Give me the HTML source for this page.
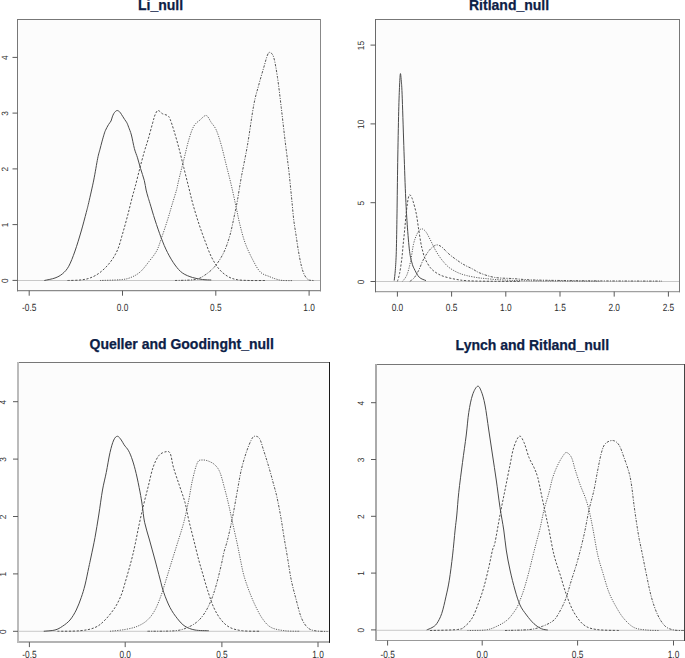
<!DOCTYPE html>
<html><head><meta charset="utf-8"><style>
html,body{margin:0;padding:0;background:#fff;width:685px;height:658px;overflow:hidden}
svg{display:block}
.ax{font-family:"Liberation Sans",sans-serif;font-size:10.4px;fill:#2e2e2e;text-rendering:geometricPrecision}
.ti{font-family:"Liberation Sans",sans-serif;font-size:14px;font-weight:bold;fill:#0c2046;stroke:#0c2046;stroke-width:0.25px}
</style></head><body>
<svg width="685" height="658" viewBox="0 0 685 658">
<rect width="685" height="658" fill="#fff"/>
<rect x="17.5" y="19.5" width="303.0" height="271.2" fill="#fcfcfc"/>
<line x1="17.5" y1="280.5" x2="320.5" y2="280.5" stroke="#c8c8c8" stroke-width="1"/>
<path d="M175.00 280.50 C178.33 280.33 190.00 280.42 195.00 279.50 C200.00 278.58 201.67 277.21 205.00 275.00 C208.33 272.79 211.88 270.00 215.00 266.25 C218.12 262.50 221.25 257.71 223.75 252.50 C226.25 247.29 228.12 241.67 230.00 235.00 C231.88 228.33 233.75 218.33 235.00 212.50 C236.25 206.67 236.46 205.83 237.50 200.00 C238.54 194.17 239.58 186.67 241.25 177.50 C242.92 168.33 245.42 157.08 247.50 145.00 C249.58 132.92 251.88 115.00 253.75 105.00 C255.62 95.00 257.08 91.25 258.75 85.00 C260.42 78.75 262.29 72.50 263.75 67.50 C265.21 62.50 266.46 57.50 267.50 55.00 C268.54 52.50 268.96 52.08 270.00 52.50 C271.04 52.92 272.50 53.33 273.75 57.50 C275.00 61.67 276.25 69.17 277.50 77.50 C278.75 85.83 280.00 97.08 281.25 107.50 C282.50 117.92 283.75 129.58 285.00 140.00 C286.25 150.42 287.78 161.67 288.75 170.00 C289.72 178.33 290.21 184.13 290.80 190.00 C291.39 195.87 291.80 200.13 292.30 205.20 C292.80 210.27 293.17 215.33 293.80 220.40 C294.43 225.47 295.33 230.53 296.10 235.60 C296.87 240.67 297.52 245.73 298.40 250.80 C299.28 255.87 300.38 261.95 301.40 266.00 C302.42 270.05 303.35 272.82 304.50 275.10 C305.65 277.38 307.03 278.82 308.30 279.70 C309.57 280.58 311.15 280.25 312.10 280.40 C313.05 280.55 313.68 280.57 314.00 280.60" fill="none" stroke="#555" stroke-width="1" stroke-dasharray="2.4 1.3 1.1 1.3"/>
<path d="M100.00 280.50 C103.33 280.37 115.00 280.15 120.00 279.70 C125.00 279.25 126.67 279.07 130.00 277.80 C133.33 276.53 136.82 274.83 140.00 272.10 C143.18 269.37 146.32 264.95 149.10 261.40 C151.88 257.85 154.67 254.60 156.70 250.80 C158.73 247.00 159.52 243.67 161.30 238.60 C163.08 233.53 165.63 225.97 167.40 220.40 C169.17 214.83 170.38 210.27 171.90 205.20 C173.42 200.13 175.36 194.20 176.50 190.00 C177.64 185.80 177.54 185.00 178.75 180.00 C179.96 175.00 182.08 166.67 183.75 160.00 C185.42 153.33 187.08 145.62 188.75 140.00 C190.42 134.38 191.88 129.58 193.75 126.25 C195.62 122.92 197.92 121.79 200.00 120.00 C202.08 118.21 204.38 115.08 206.25 115.50 C208.12 115.92 209.58 120.08 211.25 122.50 C212.92 124.92 214.58 126.25 216.25 130.00 C217.92 133.75 219.58 139.17 221.25 145.00 C222.92 150.83 224.58 158.33 226.25 165.00 C227.92 171.67 229.61 178.00 231.25 185.00 C232.89 192.00 234.64 200.33 236.10 207.00 C237.56 213.67 238.48 218.97 240.00 225.00 C241.52 231.03 243.07 237.38 245.20 243.20 C247.33 249.02 250.27 255.08 252.80 259.90 C255.33 264.72 257.62 269.32 260.40 272.10 C263.18 274.88 266.97 275.47 269.50 276.60 C272.03 277.73 273.52 278.27 275.60 278.90 C277.68 279.53 279.18 280.12 282.00 280.40 C284.82 280.68 290.75 280.57 292.50 280.60" fill="none" stroke="#606060" stroke-width="1" stroke-dasharray="1.2 1.2"/>
<path d="M67.50 280.50 C69.58 280.42 76.25 280.42 80.00 280.00 C83.75 279.58 86.67 279.25 90.00 278.00 C93.33 276.75 96.67 275.08 100.00 272.50 C103.33 269.92 107.08 266.25 110.00 262.50 C112.92 258.75 115.42 254.75 117.50 250.00 C119.58 245.25 120.83 239.67 122.50 234.00 C124.17 228.33 125.88 222.12 127.50 216.00 C129.12 209.88 130.92 202.20 132.20 197.30 C133.48 192.40 133.93 191.42 135.20 186.60 C136.47 181.78 138.28 174.22 139.80 168.40 C141.32 162.58 142.92 156.52 144.30 151.70 C145.68 146.88 146.70 144.32 148.10 139.50 C149.50 134.68 151.55 126.88 152.70 122.80 C153.85 118.72 154.12 117.05 155.00 115.00 C155.88 112.95 156.75 110.71 158.00 110.50 C159.25 110.29 160.92 112.92 162.50 113.75 C164.08 114.58 166.25 114.62 167.50 115.50 C168.75 116.38 168.96 116.58 170.00 119.00 C171.04 121.42 172.29 125.25 173.75 130.00 C175.21 134.75 177.08 141.25 178.75 147.50 C180.42 153.75 182.08 160.83 183.75 167.50 C185.42 174.17 187.18 181.22 188.75 187.50 C190.32 193.78 191.44 198.95 193.20 205.20 C194.96 211.45 197.28 218.92 199.30 225.00 C201.32 231.08 203.28 236.38 205.30 241.70 C207.32 247.02 209.12 252.35 211.40 256.90 C213.68 261.45 216.22 265.72 219.00 269.00 C221.78 272.28 225.05 274.82 228.10 276.60 C231.15 278.38 233.65 279.05 237.30 279.70 C240.95 280.35 245.38 280.37 250.00 280.50 C254.62 280.63 262.50 280.50 265.00 280.50" fill="none" stroke="#505050" stroke-width="1" stroke-dasharray="2.2 1.6"/>
<path d="M44.30 280.50 C46.08 280.08 51.97 279.12 55.00 278.00 C58.03 276.88 60.21 275.71 62.50 273.75 C64.79 271.79 66.67 270.04 68.75 266.25 C70.83 262.46 72.92 256.88 75.00 251.00 C77.08 245.12 79.38 237.42 81.25 231.00 C83.12 224.58 85.00 217.25 86.25 212.50 C87.50 207.75 87.50 207.92 88.75 202.50 C90.00 197.08 92.26 187.37 93.75 180.00 C95.24 172.63 96.66 163.43 97.70 158.30 C98.74 153.17 99.30 151.93 100.00 149.20 C100.70 146.47 101.22 144.40 101.90 141.90 C102.58 139.40 103.50 136.13 104.10 134.20 C104.70 132.27 104.77 131.90 105.50 130.30 C106.23 128.70 107.58 126.15 108.50 124.60 C109.42 123.05 110.37 122.28 111.00 121.00 C111.63 119.72 111.85 118.12 112.30 116.90 C112.75 115.68 113.17 114.62 113.70 113.70 C114.23 112.78 114.90 111.93 115.50 111.40 C116.10 110.87 116.62 110.43 117.30 110.50 C117.98 110.57 118.92 111.17 119.60 111.80 C120.28 112.43 120.57 113.03 121.40 114.30 C122.23 115.57 123.68 117.98 124.60 119.40 C125.52 120.82 126.22 121.48 126.90 122.80 C127.58 124.12 127.95 125.27 128.70 127.30 C129.45 129.33 130.45 131.45 131.40 135.00 C132.35 138.55 133.38 144.80 134.40 148.60 C135.42 152.40 136.48 154.50 137.50 157.80 C138.52 161.10 139.37 164.62 140.50 168.40 C141.63 172.18 143.37 176.90 144.30 180.50 C145.23 184.10 145.47 187.20 146.10 190.00 C146.73 192.80 147.45 195.05 148.10 197.30 C148.75 199.55 148.85 199.72 150.00 203.50 C151.15 207.28 153.12 214.25 155.00 220.00 C156.88 225.75 159.17 232.58 161.25 238.00 C163.33 243.42 165.21 248.00 167.50 252.50 C169.79 257.00 172.50 261.58 175.00 265.00 C177.50 268.42 179.58 270.92 182.50 273.00 C185.42 275.08 189.17 276.42 192.50 277.50 C195.83 278.58 199.38 279.08 202.50 279.50 C205.62 279.92 209.79 279.92 211.25 280.00" fill="none" stroke="#4a4a4a" stroke-width="1"/>
<line x1="17.00" y1="19.50" x2="321.00" y2="19.50" stroke="#777" stroke-width="1.00"/>
<line x1="17.00" y1="290.70" x2="321.00" y2="290.70" stroke="#8a8a8a" stroke-width="1.30"/>
<line x1="17.50" y1="19.00" x2="17.50" y2="291.35" stroke="#777" stroke-width="1.00"/>
<line x1="320.50" y1="19.00" x2="320.50" y2="291.35" stroke="#888" stroke-width="1.00"/>
<line x1="29.2" y1="290.7" x2="29.2" y2="295.7" stroke="#5a5a5a" stroke-width="1"/>
<text x="0" y="0" class="ax" text-anchor="middle" transform="translate(29.2 310.6) scale(0.8 1)">-0.5</text>
<line x1="122.5" y1="290.7" x2="122.5" y2="295.7" stroke="#5a5a5a" stroke-width="1"/>
<text x="0" y="0" class="ax" text-anchor="middle" transform="translate(122.5 310.6) scale(0.8 1)">0.0</text>
<line x1="215.8" y1="290.7" x2="215.8" y2="295.7" stroke="#5a5a5a" stroke-width="1"/>
<text x="0" y="0" class="ax" text-anchor="middle" transform="translate(215.8 310.6) scale(0.8 1)">0.5</text>
<line x1="309.1" y1="290.7" x2="309.1" y2="295.7" stroke="#5a5a5a" stroke-width="1"/>
<text x="0" y="0" class="ax" text-anchor="middle" transform="translate(309.1 310.6) scale(0.8 1)">1.0</text>
<line x1="12.5" y1="280.4" x2="17.5" y2="280.4" stroke="#5a5a5a" stroke-width="1"/>
<text x="0" y="0" class="ax" text-anchor="middle" transform="translate(8.2 280.8) scale(0.88 1) rotate(-90) scale(0.8 1)">0</text>
<line x1="12.5" y1="224.6" x2="17.5" y2="224.6" stroke="#5a5a5a" stroke-width="1"/>
<text x="0" y="0" class="ax" text-anchor="middle" transform="translate(8.2 225.0) scale(0.88 1) rotate(-90) scale(0.8 1)">1</text>
<line x1="12.5" y1="168.9" x2="17.5" y2="168.9" stroke="#5a5a5a" stroke-width="1"/>
<text x="0" y="0" class="ax" text-anchor="middle" transform="translate(8.2 169.3) scale(0.88 1) rotate(-90) scale(0.8 1)">2</text>
<line x1="12.5" y1="113.1" x2="17.5" y2="113.1" stroke="#5a5a5a" stroke-width="1"/>
<text x="0" y="0" class="ax" text-anchor="middle" transform="translate(8.2 113.5) scale(0.88 1) rotate(-90) scale(0.8 1)">3</text>
<line x1="12.5" y1="57.4" x2="17.5" y2="57.4" stroke="#5a5a5a" stroke-width="1"/>
<text x="0" y="0" class="ax" text-anchor="middle" transform="translate(8.2 57.8) scale(0.88 1) rotate(-90) scale(0.8 1)">4</text>
<text x="138.0" y="9.9" class="ti">Li_null</text>
<rect x="375.5" y="19.5" width="304.0" height="272.1" fill="#fcfcfc"/>
<line x1="375.5" y1="281.5" x2="679.5" y2="281.5" stroke="#c8c8c8" stroke-width="1"/>
<path d="M409.80 281.40 C410.53 280.80 412.73 279.62 414.20 277.80 C415.67 275.98 417.13 273.42 418.60 270.50 C420.07 267.58 421.55 263.22 423.00 260.30 C424.45 257.38 425.85 255.08 427.30 253.00 C428.75 250.92 430.12 249.15 431.70 247.80 C433.28 246.45 435.10 245.02 436.80 244.90 C438.50 244.78 440.07 245.75 441.90 247.10 C443.73 248.45 445.60 251.05 447.80 253.00 C450.00 254.95 452.43 256.87 455.10 258.80 C457.77 260.73 460.88 262.90 463.80 264.60 C466.72 266.30 469.92 267.60 472.60 269.00 C475.28 270.40 476.25 271.60 479.90 273.00 C483.55 274.40 489.00 276.47 494.50 277.40 C500.00 278.33 506.77 278.18 512.90 278.60 C519.03 279.02 523.12 279.58 531.30 279.90 C539.48 280.22 550.55 280.33 562.00 280.50 C573.45 280.67 583.33 280.80 600.00 280.90 C616.67 281.00 651.67 281.07 662.00 281.10" fill="none" stroke="#555" stroke-width="1" stroke-dasharray="2.4 1.3 1.1 1.3"/>
<path d="M402.50 281.40 C403.23 280.32 405.57 278.18 406.90 274.90 C408.23 271.62 409.40 266.82 410.50 261.70 C411.60 256.58 412.52 248.58 413.50 244.20 C414.48 239.82 415.43 237.72 416.40 235.40 C417.37 233.08 418.33 231.38 419.30 230.30 C420.27 229.22 421.10 228.65 422.20 228.90 C423.30 229.15 424.55 229.98 425.90 231.80 C427.25 233.62 428.85 237.00 430.30 239.80 C431.75 242.60 433.15 245.92 434.60 248.60 C436.05 251.28 437.53 253.72 439.00 255.90 C440.47 258.08 441.70 259.75 443.40 261.70 C445.10 263.65 446.77 265.77 449.20 267.60 C451.63 269.43 455.07 271.37 458.00 272.70 C460.93 274.03 463.40 274.75 466.80 275.60 C470.20 276.45 475.37 277.32 478.40 277.80 C481.43 278.28 481.40 278.17 485.00 278.50 C488.60 278.83 492.50 279.42 500.00 279.80 C507.50 280.18 513.33 280.57 530.00 280.80 C546.67 281.03 588.33 281.13 600.00 281.20" fill="none" stroke="#606060" stroke-width="1" stroke-dasharray="1.2 1.2"/>
<path d="M397.40 281.40 C397.77 280.07 398.87 277.17 399.60 273.40 C400.33 269.63 401.20 263.67 401.80 258.80 C402.40 253.93 402.72 249.07 403.20 244.20 C403.68 239.33 404.23 234.47 404.70 229.60 C405.17 224.73 405.58 219.10 406.00 215.00 C406.42 210.90 406.82 207.83 407.20 205.00 C407.58 202.17 407.88 199.70 408.30 198.00 C408.72 196.30 409.17 194.97 409.70 194.80 C410.23 194.63 410.92 195.85 411.50 197.00 C412.08 198.15 412.40 198.90 413.20 201.70 C414.00 204.50 415.40 209.25 416.30 213.80 C417.20 218.35 417.85 224.18 418.60 229.00 C419.35 233.82 420.17 239.20 420.80 242.70 C421.43 246.20 421.68 247.32 422.40 250.00 C423.12 252.68 423.78 255.87 425.10 258.80 C426.42 261.73 428.47 265.28 430.30 267.60 C432.13 269.92 433.92 271.25 436.10 272.70 C438.28 274.15 440.23 275.22 443.40 276.30 C446.57 277.38 451.20 278.47 455.10 279.20 C459.00 279.93 461.82 280.37 466.80 280.70 C471.78 281.03 476.13 281.08 485.00 281.20 C493.87 281.32 514.17 281.37 520.00 281.40" fill="none" stroke="#505050" stroke-width="1" stroke-dasharray="2.2 1.6"/>
<path d="M394.20 280.60 C394.38 278.88 394.95 275.15 395.30 270.30 C395.65 265.45 396.02 260.90 396.30 251.50 C396.58 242.10 396.77 228.72 397.00 213.90 C397.23 199.08 397.42 179.70 397.70 162.60 C397.98 145.50 398.38 124.23 398.70 111.30 C399.02 98.37 399.32 91.27 399.60 85.00 C399.88 78.73 400.13 74.53 400.40 73.70 C400.67 72.87 400.92 76.58 401.20 80.00 C401.48 83.42 401.67 83.28 402.10 94.20 C402.53 105.12 403.23 128.97 403.80 145.50 C404.37 162.03 404.93 180.28 405.50 193.40 C406.07 206.52 406.52 214.52 407.20 224.20 C407.88 233.88 408.80 245.03 409.60 251.50 C410.40 257.97 411.25 260.15 412.00 263.00 C412.75 265.85 412.90 266.23 414.10 268.60 C415.30 270.97 417.22 275.20 419.20 277.20 C421.18 279.20 424.87 280.03 426.00 280.60" fill="none" stroke="#4a4a4a" stroke-width="1"/>
<line x1="375.00" y1="19.50" x2="680.00" y2="19.50" stroke="#777" stroke-width="1.00"/>
<line x1="375.00" y1="291.60" x2="680.00" y2="291.60" stroke="#a0a0a0" stroke-width="1.30"/>
<line x1="375.50" y1="19.00" x2="375.50" y2="292.25" stroke="#6a6a6a" stroke-width="1.00"/>
<line x1="679.50" y1="19.00" x2="679.50" y2="292.25" stroke="#777" stroke-width="1.00"/>
<line x1="397.4" y1="291.6" x2="397.4" y2="296.6" stroke="#5a5a5a" stroke-width="1"/>
<text x="0" y="0" class="ax" text-anchor="middle" transform="translate(397.4 311.2) scale(0.8 1)">0.0</text>
<line x1="451.6" y1="291.6" x2="451.6" y2="296.6" stroke="#5a5a5a" stroke-width="1"/>
<text x="0" y="0" class="ax" text-anchor="middle" transform="translate(451.6 311.2) scale(0.8 1)">0.5</text>
<line x1="505.8" y1="291.6" x2="505.8" y2="296.6" stroke="#5a5a5a" stroke-width="1"/>
<text x="0" y="0" class="ax" text-anchor="middle" transform="translate(505.8 311.2) scale(0.8 1)">1.0</text>
<line x1="560.0" y1="291.6" x2="560.0" y2="296.6" stroke="#5a5a5a" stroke-width="1"/>
<text x="0" y="0" class="ax" text-anchor="middle" transform="translate(560.0 311.2) scale(0.8 1)">1.5</text>
<line x1="614.2" y1="291.6" x2="614.2" y2="296.6" stroke="#5a5a5a" stroke-width="1"/>
<text x="0" y="0" class="ax" text-anchor="middle" transform="translate(614.2 311.2) scale(0.8 1)">2.0</text>
<line x1="668.4" y1="291.6" x2="668.4" y2="296.6" stroke="#5a5a5a" stroke-width="1"/>
<text x="0" y="0" class="ax" text-anchor="middle" transform="translate(668.4 311.2) scale(0.8 1)">2.5</text>
<line x1="370.5" y1="281.5" x2="375.5" y2="281.5" stroke="#5a5a5a" stroke-width="1"/>
<text x="0" y="0" class="ax" text-anchor="middle" transform="translate(364.3 281.9) scale(0.88 1) rotate(-90) scale(0.8 1)">0</text>
<line x1="370.5" y1="202.7" x2="375.5" y2="202.7" stroke="#5a5a5a" stroke-width="1"/>
<text x="0" y="0" class="ax" text-anchor="middle" transform="translate(364.3 203.1) scale(0.88 1) rotate(-90) scale(0.8 1)">5</text>
<line x1="370.5" y1="123.9" x2="375.5" y2="123.9" stroke="#5a5a5a" stroke-width="1"/>
<text x="0" y="0" class="ax" text-anchor="middle" transform="translate(364.3 124.3) scale(0.88 1) rotate(-90) scale(0.8 1)">10</text>
<line x1="370.5" y1="45.1" x2="375.5" y2="45.1" stroke="#5a5a5a" stroke-width="1"/>
<text x="0" y="0" class="ax" text-anchor="middle" transform="translate(364.3 45.5) scale(0.88 1) rotate(-90) scale(0.8 1)">15</text>
<text x="469.0" y="9.6" class="ti">Ritland_null</text>
<rect x="18.0" y="362.5" width="311.5" height="279.6" fill="#fcfcfc"/>
<line x1="18.0" y1="631.3" x2="329.5" y2="631.3" stroke="#c8c8c8" stroke-width="1"/>
<path d="M147.50 631.25 C152.08 631.17 168.33 631.38 175.00 630.75 C181.67 630.12 183.75 629.04 187.50 627.50 C191.25 625.96 194.58 624.00 197.50 621.50 C200.42 619.00 202.71 616.08 205.00 612.50 C207.29 608.92 209.38 604.58 211.25 600.00 C213.12 595.42 214.58 590.83 216.25 585.00 C217.92 579.17 219.96 570.50 221.25 565.00 C222.54 559.50 222.96 556.17 224.00 552.00 C225.04 547.83 226.08 545.75 227.50 540.00 C228.92 534.25 230.83 525.83 232.50 517.50 C234.17 509.17 236.04 497.92 237.50 490.00 C238.96 482.08 239.79 476.25 241.25 470.00 C242.71 463.75 244.58 457.50 246.25 452.50 C247.92 447.50 249.88 442.71 251.25 440.00 C252.62 437.29 253.12 436.50 254.50 436.25 C255.88 436.00 258.00 436.21 259.50 438.50 C261.00 440.79 262.25 446.25 263.50 450.00 C264.75 453.75 265.88 457.37 267.00 461.00 C268.12 464.63 269.12 467.97 270.20 471.80 C271.28 475.63 272.38 479.82 273.50 484.00 C274.62 488.18 275.63 491.13 276.90 496.90 C278.17 502.67 279.92 511.92 281.10 518.60 C282.28 525.28 282.93 530.52 284.00 537.00 C285.07 543.48 286.29 550.33 287.50 557.50 C288.71 564.67 289.79 572.92 291.25 580.00 C292.71 587.08 294.58 593.75 296.25 600.00 C297.92 606.25 299.38 612.92 301.25 617.50 C303.12 622.08 305.21 625.29 307.50 627.50 C309.79 629.71 311.67 630.08 315.00 630.75 C318.33 631.42 325.42 631.38 327.50 631.50" fill="none" stroke="#555" stroke-width="1" stroke-dasharray="2.4 1.3 1.1 1.3"/>
<path d="M110.00 631.25 C112.50 630.96 120.42 630.33 125.00 629.50 C129.58 628.67 133.75 627.83 137.50 626.25 C141.25 624.67 144.58 622.71 147.50 620.00 C150.42 617.29 152.71 614.17 155.00 610.00 C157.29 605.83 159.42 600.00 161.25 595.00 C163.08 590.00 164.33 585.33 166.00 580.00 C167.67 574.67 169.33 569.17 171.25 563.00 C173.17 556.83 175.42 549.75 177.50 543.00 C179.58 536.25 181.88 529.67 183.75 522.50 C185.62 515.33 187.29 507.08 188.75 500.00 C190.21 492.92 191.04 486.25 192.50 480.00 C193.96 473.75 195.83 465.83 197.50 462.50 C199.17 459.17 200.62 460.21 202.50 460.00 C204.38 459.79 206.67 460.42 208.75 461.25 C210.83 462.08 213.12 463.12 215.00 465.00 C216.88 466.88 218.33 468.33 220.00 472.50 C221.67 476.67 223.54 484.58 225.00 490.00 C226.46 495.42 227.50 499.58 228.75 505.00 C230.00 510.42 231.04 515.83 232.50 522.50 C233.96 529.17 236.17 538.75 237.50 545.00 C238.83 551.25 239.46 555.00 240.50 560.00 C241.54 565.00 242.38 570.00 243.75 575.00 C245.12 580.00 246.88 585.00 248.75 590.00 C250.62 595.00 252.71 600.21 255.00 605.00 C257.29 609.79 259.79 615.00 262.50 618.75 C265.21 622.50 267.50 625.50 271.25 627.50 C275.00 629.50 280.21 630.12 285.00 630.75 C289.79 631.38 297.50 631.17 300.00 631.25" fill="none" stroke="#606060" stroke-width="1" stroke-dasharray="1.2 1.2"/>
<path d="M57.50 631.25 C61.25 631.17 73.75 631.38 80.00 630.75 C86.25 630.12 90.83 629.29 95.00 627.50 C99.17 625.71 101.67 623.33 105.00 620.00 C108.33 616.67 112.29 611.67 115.00 607.50 C117.71 603.33 119.58 599.08 121.25 595.00 C122.92 590.92 123.75 587.17 125.00 583.00 C126.25 578.83 127.58 574.17 128.75 570.00 C129.92 565.83 130.96 562.17 132.00 558.00 C133.04 553.83 133.78 550.70 135.00 545.00 C136.22 539.30 137.83 530.63 139.30 523.80 C140.77 516.97 142.28 510.33 143.80 504.00 C145.32 497.67 146.87 491.87 148.40 485.80 C149.93 479.73 151.23 472.67 153.00 467.60 C154.77 462.53 156.73 458.07 159.00 455.40 C161.27 452.73 164.70 451.85 166.60 451.60 C168.50 451.35 169.25 451.23 170.40 453.90 C171.55 456.57 171.98 462.28 173.50 467.60 C175.02 472.92 177.58 479.98 179.50 485.80 C181.42 491.62 183.46 496.80 185.00 502.50 C186.54 508.20 187.29 513.75 188.75 520.00 C190.21 526.25 192.08 533.33 193.75 540.00 C195.42 546.67 197.29 554.50 198.75 560.00 C200.21 565.50 201.04 568.00 202.50 573.00 C203.96 578.00 205.62 584.25 207.50 590.00 C209.38 595.75 211.46 602.50 213.75 607.50 C216.04 612.50 218.54 616.67 221.25 620.00 C223.96 623.33 226.46 625.71 230.00 627.50 C233.54 629.29 237.50 630.12 242.50 630.75 C247.50 631.38 257.08 631.17 260.00 631.25" fill="none" stroke="#505050" stroke-width="1" stroke-dasharray="2.2 1.6"/>
<path d="M43.75 631.25 C45.62 631.04 51.88 630.83 55.00 630.00 C58.12 629.17 60.00 627.92 62.50 626.25 C65.00 624.58 67.71 622.71 70.00 620.00 C72.29 617.29 74.38 613.75 76.25 610.00 C78.12 606.25 79.79 601.67 81.25 597.50 C82.71 593.33 83.75 590.00 85.00 585.00 C86.25 580.00 87.75 572.17 88.75 567.50 C89.75 562.83 89.96 562.00 91.00 557.00 C92.04 552.00 93.71 544.50 95.00 537.50 C96.29 530.50 97.50 522.92 98.75 515.00 C100.00 507.08 101.25 497.08 102.50 490.00 C103.75 482.92 105.00 478.75 106.25 472.50 C107.50 466.25 108.75 457.92 110.00 452.50 C111.25 447.08 112.50 442.71 113.75 440.00 C115.00 437.29 116.25 436.25 117.50 436.25 C118.75 436.25 120.15 438.57 121.25 440.00 C122.35 441.43 122.88 443.00 124.10 444.80 C125.32 446.60 127.22 448.27 128.60 450.80 C129.98 453.33 131.13 456.20 132.40 460.00 C133.67 463.80 134.93 468.28 136.20 473.60 C137.47 478.92 138.98 486.58 140.00 491.90 C141.02 497.22 141.53 500.43 142.30 505.50 C143.07 510.57 143.40 516.55 144.60 522.30 C145.80 528.05 147.77 533.72 149.50 540.00 C151.23 546.28 153.25 553.50 155.00 560.00 C156.75 566.50 158.54 573.58 160.00 579.00 C161.46 584.42 162.08 587.75 163.75 592.50 C165.42 597.25 167.71 603.12 170.00 607.50 C172.29 611.88 175.00 615.62 177.50 618.75 C180.00 621.88 182.08 624.38 185.00 626.25 C187.92 628.12 191.04 629.25 195.00 630.00 C198.96 630.75 206.46 630.62 208.75 630.75" fill="none" stroke="#4a4a4a" stroke-width="1"/>
<line x1="17.00" y1="362.50" x2="330.00" y2="362.50" stroke="#777" stroke-width="1.00"/>
<line x1="17.00" y1="642.10" x2="330.00" y2="642.10" stroke="#9a9a9a" stroke-width="1.50"/>
<line x1="18.00" y1="362.00" x2="18.00" y2="642.85" stroke="#bbb" stroke-width="2.00"/>
<line x1="329.50" y1="362.00" x2="329.50" y2="642.85" stroke="#1a1a1a" stroke-width="1.00"/>
<line x1="29.4" y1="642.1" x2="29.4" y2="647.1" stroke="#5a5a5a" stroke-width="1"/>
<text x="0" y="0" class="ax" text-anchor="middle" transform="translate(29.4 658.3) scale(0.8 1)">-0.5</text>
<line x1="125.2" y1="642.1" x2="125.2" y2="647.1" stroke="#5a5a5a" stroke-width="1"/>
<text x="0" y="0" class="ax" text-anchor="middle" transform="translate(125.2 658.3) scale(0.8 1)">0.0</text>
<line x1="221.9" y1="642.1" x2="221.9" y2="647.1" stroke="#5a5a5a" stroke-width="1"/>
<text x="0" y="0" class="ax" text-anchor="middle" transform="translate(221.9 658.3) scale(0.8 1)">0.5</text>
<line x1="318.0" y1="642.1" x2="318.0" y2="647.1" stroke="#5a5a5a" stroke-width="1"/>
<text x="0" y="0" class="ax" text-anchor="middle" transform="translate(318.0 658.3) scale(0.8 1)">1.0</text>
<line x1="13.0" y1="631.3" x2="18.0" y2="631.3" stroke="#5a5a5a" stroke-width="1"/>
<text x="0" y="0" class="ax" text-anchor="middle" transform="translate(6.2 631.7) scale(0.88 1) rotate(-90) scale(0.8 1)">0</text>
<line x1="13.0" y1="573.9" x2="18.0" y2="573.9" stroke="#5a5a5a" stroke-width="1"/>
<text x="0" y="0" class="ax" text-anchor="middle" transform="translate(6.2 574.3) scale(0.88 1) rotate(-90) scale(0.8 1)">1</text>
<line x1="13.0" y1="516.5" x2="18.0" y2="516.5" stroke="#5a5a5a" stroke-width="1"/>
<text x="0" y="0" class="ax" text-anchor="middle" transform="translate(6.2 516.9) scale(0.88 1) rotate(-90) scale(0.8 1)">2</text>
<line x1="13.0" y1="459.1" x2="18.0" y2="459.1" stroke="#5a5a5a" stroke-width="1"/>
<text x="0" y="0" class="ax" text-anchor="middle" transform="translate(6.2 459.5) scale(0.88 1) rotate(-90) scale(0.8 1)">3</text>
<line x1="13.0" y1="401.7" x2="18.0" y2="401.7" stroke="#5a5a5a" stroke-width="1"/>
<text x="0" y="0" class="ax" text-anchor="middle" transform="translate(6.2 402.1) scale(0.88 1) rotate(-90) scale(0.8 1)">4</text>
<text x="89.5" y="349.3" class="ti">Queller and Goodinght_null</text>
<rect x="376.0" y="364.5" width="308.5" height="276.0" fill="#fcfcfc"/>
<line x1="376.0" y1="630.3" x2="684.5" y2="630.3" stroke="#c8c8c8" stroke-width="1"/>
<path d="M505.00 630.50 C509.17 630.33 523.75 630.21 530.00 629.50 C536.25 628.79 538.75 627.62 542.50 626.25 C546.25 624.88 549.96 623.12 552.50 621.25 C555.04 619.38 555.62 618.54 557.75 615.00 C559.88 611.46 562.96 605.83 565.25 600.00 C567.54 594.17 569.42 586.67 571.50 580.00 C573.58 573.33 575.67 567.50 577.75 560.00 C579.83 552.50 582.12 543.33 584.00 535.00 C585.88 526.67 587.33 517.50 589.00 510.00 C590.67 502.50 592.54 496.67 594.00 490.00 C595.46 483.33 596.50 476.25 597.75 470.00 C599.00 463.75 600.25 456.88 601.50 452.50 C602.75 448.12 603.38 445.75 605.25 443.75 C607.12 441.75 610.46 440.29 612.75 440.50 C615.04 440.71 617.12 442.17 619.00 445.00 C620.88 447.83 622.33 452.92 624.00 457.50 C625.67 462.08 627.75 467.92 629.00 472.50 C630.25 477.08 630.67 479.58 631.50 485.00 C632.33 490.42 633.17 498.75 634.00 505.00 C634.83 511.25 635.67 517.00 636.50 522.50 C637.33 528.00 638.17 533.42 639.00 538.00 C639.83 542.58 640.25 543.83 641.50 550.00 C642.75 556.17 644.83 567.08 646.50 575.00 C648.17 582.92 649.62 590.83 651.50 597.50 C653.38 604.17 655.46 610.21 657.75 615.00 C660.04 619.79 662.54 623.75 665.25 626.25 C667.96 628.75 670.88 629.29 674.00 630.00 C677.12 630.71 682.33 630.42 684.00 630.50" fill="none" stroke="#555" stroke-width="1" stroke-dasharray="2.4 1.3 1.1 1.3"/>
<path d="M467.50 630.50 C470.45 630.42 480.57 630.58 485.20 630.00 C489.83 629.42 491.67 628.63 495.30 627.00 C498.93 625.37 503.67 623.00 507.00 620.20 C510.33 617.40 513.35 612.98 515.30 610.20 C517.25 607.42 517.29 606.87 518.70 603.50 C520.11 600.13 522.08 595.17 523.75 590.00 C525.42 584.83 527.08 578.75 528.75 572.50 C530.42 566.25 532.38 557.92 533.75 552.50 C535.12 547.08 535.92 544.17 537.00 540.00 C538.08 535.83 539.08 532.50 540.25 527.50 C541.42 522.50 542.54 515.83 544.00 510.00 C545.46 504.17 547.54 497.92 549.00 492.50 C550.46 487.08 551.29 482.08 552.75 477.50 C554.21 472.92 556.08 468.54 557.75 465.00 C559.42 461.46 561.29 458.33 562.75 456.25 C564.21 454.17 565.04 452.29 566.50 452.50 C567.96 452.71 570.04 454.58 571.50 457.50 C572.96 460.42 573.79 465.42 575.25 470.00 C576.71 474.58 578.58 480.42 580.25 485.00 C581.92 489.58 583.79 493.33 585.25 497.50 C586.71 501.67 587.75 504.92 589.00 510.00 C590.25 515.08 591.29 520.50 592.75 528.00 C594.21 535.50 596.08 547.58 597.75 555.00 C599.42 562.42 600.88 566.25 602.75 572.50 C604.62 578.75 606.71 586.67 609.00 592.50 C611.29 598.33 614.00 603.12 616.50 607.50 C619.00 611.88 621.08 615.42 624.00 618.75 C626.92 622.08 630.25 625.62 634.00 627.50 C637.75 629.38 642.33 629.50 646.50 630.00 C650.67 630.50 656.92 630.42 659.00 630.50" fill="none" stroke="#606060" stroke-width="1" stroke-dasharray="1.2 1.2"/>
<path d="M430.00 630.50 C434.58 630.33 451.67 630.21 457.50 629.50 C463.33 628.79 462.50 628.25 465.00 626.25 C467.50 624.25 470.21 621.46 472.50 617.50 C474.79 613.54 476.88 607.50 478.75 602.50 C480.62 597.50 482.08 593.33 483.75 587.50 C485.42 581.67 487.29 573.75 488.75 567.50 C490.21 561.25 491.46 554.17 492.50 550.00 C493.54 545.83 493.75 548.33 495.00 542.50 C496.25 536.67 498.33 523.75 500.00 515.00 C501.67 506.25 503.33 498.33 505.00 490.00 C506.67 481.67 508.54 472.08 510.00 465.00 C511.46 457.92 512.20 452.29 513.75 447.50 C515.30 442.71 517.59 437.08 519.30 436.25 C521.01 435.42 522.38 438.96 524.00 442.50 C525.62 446.04 527.33 453.33 529.00 457.50 C530.67 461.67 532.54 464.17 534.00 467.50 C535.46 470.83 536.50 472.92 537.75 477.50 C539.00 482.08 540.25 489.17 541.50 495.00 C542.75 500.83 544.00 506.67 545.25 512.50 C546.50 518.33 547.54 522.92 549.00 530.00 C550.46 537.08 552.12 547.50 554.00 555.00 C555.88 562.50 558.17 568.33 560.25 575.00 C562.33 581.67 564.21 588.75 566.50 595.00 C568.79 601.25 571.08 607.50 574.00 612.50 C576.92 617.50 580.25 622.17 584.00 625.00 C587.75 627.83 590.67 628.58 596.50 629.50 C602.33 630.42 615.25 630.33 619.00 630.50" fill="none" stroke="#505050" stroke-width="1" stroke-dasharray="2.2 1.6"/>
<path d="M426.70 629.90 C427.58 629.52 430.33 628.63 432.00 627.60 C433.67 626.57 435.08 626.03 436.70 623.70 C438.32 621.37 440.17 618.07 441.70 613.60 C443.23 609.13 444.63 602.47 445.90 596.90 C447.17 591.33 448.18 587.17 449.30 580.20 C450.42 573.23 451.63 563.47 452.60 555.10 C453.57 546.73 454.40 536.68 455.10 530.00 C455.80 523.32 456.19 521.25 456.80 515.00 C457.41 508.75 457.80 501.25 458.75 492.50 C459.70 483.75 461.25 472.08 462.50 462.50 C463.75 452.92 465.21 443.33 466.25 435.00 C467.29 426.67 467.71 419.17 468.75 412.50 C469.79 405.83 471.04 399.38 472.50 395.00 C473.96 390.62 476.04 386.88 477.50 386.25 C478.96 385.62 480.00 388.12 481.25 391.25 C482.50 394.38 483.75 398.54 485.00 405.00 C486.25 411.46 487.50 421.67 488.75 430.00 C490.00 438.33 491.25 446.67 492.50 455.00 C493.75 463.33 495.00 471.25 496.25 480.00 C497.50 488.75 498.75 499.17 500.00 507.50 C501.25 515.83 502.71 522.92 503.75 530.00 C504.79 537.08 505.21 543.33 506.25 550.00 C507.29 556.67 508.54 563.33 510.00 570.00 C511.46 576.67 513.33 584.17 515.00 590.00 C516.67 595.83 518.08 600.83 520.00 605.00 C521.92 609.17 524.17 611.88 526.50 615.00 C528.83 618.12 531.50 621.46 534.00 623.75 C536.50 626.04 539.21 627.71 541.50 628.75 C543.79 629.79 546.71 629.79 547.75 630.00" fill="none" stroke="#4a4a4a" stroke-width="1"/>
<line x1="375.00" y1="364.50" x2="685.00" y2="364.50" stroke="#777" stroke-width="1.00"/>
<line x1="375.00" y1="640.50" x2="685.00" y2="640.50" stroke="#999" stroke-width="1.00"/>
<line x1="376.00" y1="364.00" x2="376.00" y2="641.00" stroke="#aaa" stroke-width="2.00"/>
<line x1="684.50" y1="364.00" x2="684.50" y2="641.00" stroke="#444" stroke-width="1.00"/>
<line x1="387.6" y1="640.5" x2="387.6" y2="645.5" stroke="#5a5a5a" stroke-width="1"/>
<text x="0" y="0" class="ax" text-anchor="middle" transform="translate(387.6 657.7) scale(0.8 1)">-0.5</text>
<line x1="482.2" y1="640.5" x2="482.2" y2="645.5" stroke="#5a5a5a" stroke-width="1"/>
<text x="0" y="0" class="ax" text-anchor="middle" transform="translate(482.2 657.7) scale(0.8 1)">0.0</text>
<line x1="577.6" y1="640.5" x2="577.6" y2="645.5" stroke="#5a5a5a" stroke-width="1"/>
<text x="0" y="0" class="ax" text-anchor="middle" transform="translate(577.6 657.7) scale(0.8 1)">0.5</text>
<line x1="673.5" y1="640.5" x2="673.5" y2="645.5" stroke="#5a5a5a" stroke-width="1"/>
<text x="0" y="0" class="ax" text-anchor="middle" transform="translate(673.5 657.7) scale(0.8 1)">1.0</text>
<line x1="371.0" y1="629.9" x2="376.0" y2="629.9" stroke="#5a5a5a" stroke-width="1"/>
<text x="0" y="0" class="ax" text-anchor="middle" transform="translate(364.4 630.3) scale(0.88 1) rotate(-90) scale(0.8 1)">0</text>
<line x1="371.0" y1="573.1" x2="376.0" y2="573.1" stroke="#5a5a5a" stroke-width="1"/>
<text x="0" y="0" class="ax" text-anchor="middle" transform="translate(364.4 573.5) scale(0.88 1) rotate(-90) scale(0.8 1)">1</text>
<line x1="371.0" y1="516.3" x2="376.0" y2="516.3" stroke="#5a5a5a" stroke-width="1"/>
<text x="0" y="0" class="ax" text-anchor="middle" transform="translate(364.4 516.7) scale(0.88 1) rotate(-90) scale(0.8 1)">2</text>
<line x1="371.0" y1="459.5" x2="376.0" y2="459.5" stroke="#5a5a5a" stroke-width="1"/>
<text x="0" y="0" class="ax" text-anchor="middle" transform="translate(364.4 459.9) scale(0.88 1) rotate(-90) scale(0.8 1)">3</text>
<line x1="371.0" y1="402.7" x2="376.0" y2="402.7" stroke="#5a5a5a" stroke-width="1"/>
<text x="0" y="0" class="ax" text-anchor="middle" transform="translate(364.4 403.1) scale(0.88 1) rotate(-90) scale(0.8 1)">4</text>
<text x="455.6" y="349.7" class="ti">Lynch and Ritland_null</text>
</svg>
</body></html>
